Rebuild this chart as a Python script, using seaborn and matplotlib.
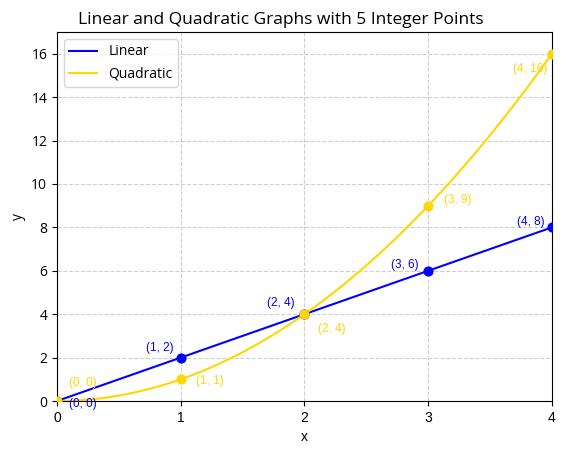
import numpy as np
import pandas as pd
import seaborn as sns
import matplotlib.pyplot as plt

plt.rcParams['font.family'] = ['Open Sans', 'DejaVu Sans']

# Integer points for both graphs
x_points = [0, 1, 2, 3, 4]
linear_y = [0, 2, 4, 6, 8]
quadratic_y = [0, 1, 4, 9, 16]

df = pd.DataFrame({'x': x_points, 'linear': linear_y, 'quadratic': quadratic_y})

fig = plt.figure(figsize=(5.67, 4.57), dpi=100)
ax = fig.add_axes([0.1005, 0.1225, 0.873, 0.8075])

# Lines
sns.lineplot(data=df, x='x', y='linear', color='blue', label='Linear', ax=ax)
sns.regplot(data=df, x='x', y='quadratic', order=2, ci=None, scatter=False,
            color='#FFD700', label='Quadratic', line_kws={'lw': 1.5}, ax=ax)

# Points
ax.scatter(df['x'], df['linear'], color='blue', s=40, zorder=3)
ax.scatter(df['x'], df['quadratic'], color='#FFD700', s=40, zorder=3)

# Label offsets in points (text placement around each point)
lin_offsets = [(9, -2, 'left'), (-5, 7, 'right'), (-7, 8, 'right'), (-7, 4, 'right'), (-5, 4, 'right')]
quad_offsets = [(9, 13, 'left'), (11, -1, 'left'), (10, -11, 'left'), (11, 4, 'left'), (-3, -11, 'right')]

for (xv, yv), (dx, dy, ha) in zip(zip(x_points, linear_y), lin_offsets):
    ax.annotate(f'({xv}, {yv})', (xv, yv), xytext=(dx, dy), textcoords='offset points',
                ha=ha, va='center', color='blue', fontsize=8.5, family='Liberation Sans')
for (xv, yv), (dx, dy, ha) in zip(zip(x_points, quadratic_y), quad_offsets):
    ax.annotate(f'({xv}, {yv})', (xv, yv), xytext=(dx, dy), textcoords='offset points',
                ha=ha, va='center', color='#FFD700', fontsize=8.5, family='Liberation Sans')

ax.set_xlim(0, 4)
ax.set_ylim(0, 17)
ax.set_xticks(x_points)
ax.set_yticks(range(0, 17, 2))
for lab in ax.get_xticklabels():
    lab.set_family('Liberation Sans')
ax.set_xlabel('x', family='Liberation Sans')
ax.set_ylabel('y')
ax.set_title('Linear and Quadratic Graphs with 5 Integer Points', fontsize=12.5, x=0.453)
ax.grid(True, linestyle='--', alpha=0.6)
ax.legend(loc='upper left')

fig.savefig('out.png', dpi=100)
